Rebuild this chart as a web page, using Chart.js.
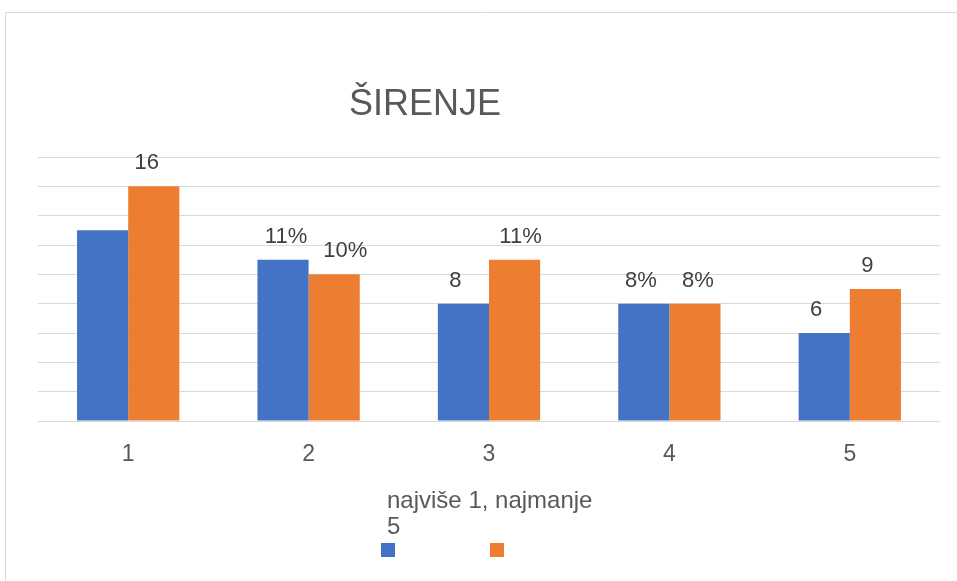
<!DOCTYPE html>
<html>
<head>
<meta charset="utf-8">
<script src="https://cdn.jsdelivr.net/npm/chart.js@4"></script>
<style>
   body { margin: 0; background: #fff; }
   #chartBox { position: absolute; left: 0; top: 0; width: 957px; height: 581px; }
</style>
</head>
<body>
<div id="chartBox"><canvas id="sirenjeChart" width="957" height="581"></canvas></div>
<script>
/* -----------------------------------------------------------------------
   data
   ------------------------------------------------------------------------*/
const categories = ["1", "2", "3", "4", "5"];
const series_blue = [13, 11, 8, 8, 6];
const series_orange = [16, 10, 11, 8, 9];
const labels_blue = ["", "11%", "8", "8%", "6"];
const labels_orange = ["16", "10%", "11%", "8%", "9"];
const y_ticks = [0, 2, 4, 6, 8, 10, 12, 14, 16, 18];
const chart_title = "ŠIRENJE";
const legend_title = ["najviše 1, najmanje", "5"];

const FONT = '"Liberation Sans", Arial, sans-serif';
// small horizontal nudges of the bar labels (px), as placed in the original
const label_dx = [[0, 3, -8, -3, -8], [-7, 11, 6, 3, -8]];

/* -----------------------------------------------------------------------
   frame, title, legend, bar labels
   ------------------------------------------------------------------------*/
const decorPlugin = {
   id: 'decor',
   beforeDraw: function(chart) {
      const ctx = chart.ctx;
      ctx.save();
      ctx.strokeStyle = '#d9d9d9';
      ctx.lineWidth = 1;
      ctx.beginPath();
      ctx.moveTo(5.5, 581);
      ctx.lineTo(5.5, 12.5);
      ctx.lineTo(957, 12.5);
      ctx.stroke();
      ctx.restore();
   },
   afterDatasetsDraw: function(chart) {
      const ctx = chart.ctx;
      ctx.save();
      // title
      ctx.fillStyle = '#595959';
      ctx.font = '36px ' + FONT;
      ctx.textAlign = 'left';
      ctx.textBaseline = 'alphabetic';
      ctx.fillText(chart_title, 349, 115);

      // bar labels
      ctx.fillStyle = '#404040';
      ctx.font = '22px ' + FONT;
      ctx.textAlign = 'center';
      const lbls = [labels_blue, labels_orange];
      chart.data.datasets.forEach(function(ds, di) {
         chart.getDatasetMeta(di).data.forEach(function(bar, i) {
            ctx.fillText(lbls[di][i], bar.x + label_dx[di][i], bar.y - 17);
         });
      });

      // legend
      ctx.fillStyle = '#595959';
      ctx.font = '24px ' + FONT;
      ctx.textAlign = 'left';
      ctx.fillText(legend_title[0], 387, 508);
      ctx.fillText(legend_title[1], 387, 534);
      chart.data.datasets.forEach(function(ds, di) {
         ctx.fillStyle = ds.backgroundColor;
         ctx.fillRect(di === 0 ? 381 : 490, 543, 14, 14);
      });
      ctx.restore();
   }
};

const config = {
   type: 'bar',
   data: {
      labels: categories,
      datasets: [
         {
            label: 'blue',
            data: series_blue,
            backgroundColor: '#4472C4',
            categoryPercentage: 0.567,
            barPercentage: 1,
         }, {
            label: 'orange',
            data: series_orange,
            backgroundColor: '#ED7D31',
            categoryPercentage: 0.567,
            barPercentage: 1,
         }
      ]
   },
   options: {
      responsive: false,
      animation: false,
      layout: {
         padding: { top: 157, left: 38, right: 17, bottom: 0 }
      },
      scales: {
         x: {
            grid: { display: false },
            border: { display: false },
            ticks: {
               color: '#595959',
               padding: 12,
               font: { size: 23, family: FONT }
            },
            afterFit: function(scale) { scale.height = 160; }
         },
         y: {
            min: 0,
            max: 18,
            afterBuildTicks: function(scale) {
               scale.ticks = y_ticks.map(function(v) { return { value: v }; });
            },
            grid: { color: '#d9d9d9', lineWidth: 1, drawTicks: false },
            border: { display: false },
            ticks: { display: false },
            afterFit: function(scale) { scale.width = 0; }
         }
      },
      plugins: {
         legend: { display: false },
         title: { display: false },
         tooltip: { enabled: false }
      }
   },
   plugins: [decorPlugin]
};

new Chart(document.getElementById('sirenjeChart'), config);
</script>
</body>
</html>
